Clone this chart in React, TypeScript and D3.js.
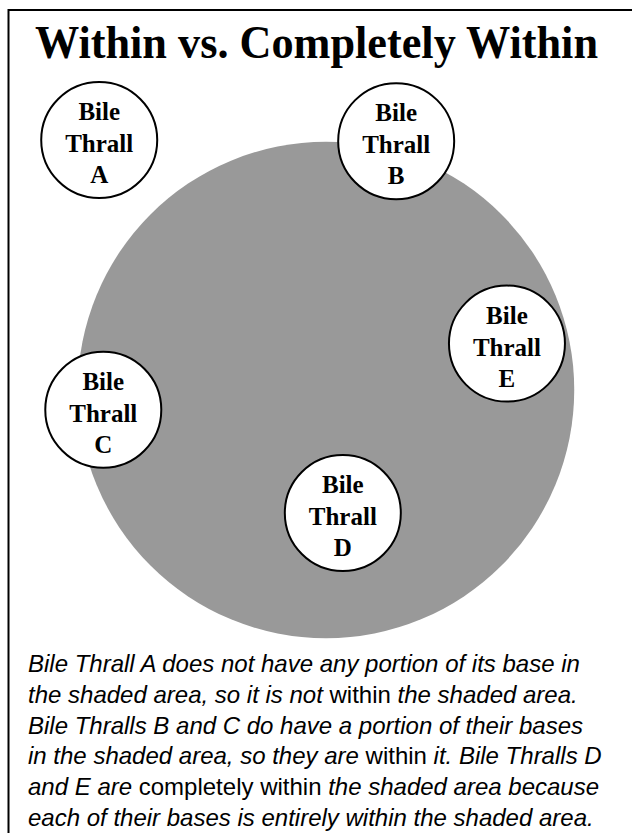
import React from 'react';
import * as d3 from 'd3';

// board coordinates, 1 unit = one base radius, origin = centre of shaded area
const thrallNames = ['A', 'B', 'C', 'D', 'E'];
const thrallX = [-3.91, 1.21, -3.84, 0.29, 3.12];
const thrallY = [-4.31, -4.29, 0.34, 2.12, -0.80];
const baseRadius = 1;
const areaRadius = 4.28;

const title = 'Within vs. Completely Within';
// caption lines, each as [text, italic?] runs
const captionLines: [string, boolean][][] = [
  [['Bile Thrall A does not have any portion of its base in', true]],
  [['the shaded area, so it is not', true], [' within ', false], ['the shaded area.', true]],
  [['Bile Thralls B and C do have a portion of their bases', true]],
  [['in the shaded area, so they are', true], [' within ', false], ['it. Bile Thralls D', true]],
  [['and E are', true], [' completely within ', false], ['the shaded area because', true]],
  [['each of their bases is entirely within the shaded area.', true]],
];

const W = 632, H = 833;

const App = () => {
  const unit = 58;
  const x = d3.scaleLinear().domain([0, 1]).range([326, 326 + unit]);
  const y = d3.scaleLinear().domain([0, 1]).range([390, 390 + unit]);
  const r = (v: number) => x(v) - x(0);

  const serif = '"Liberation Serif", "DejaVu Serif", serif';
  const sans = '"Liberation Sans", Arial, sans-serif';

  return (
    <svg width={W} height={H} style={{position: 'absolute', left: 0, top: 0, display: 'block', background: '#fff'}}>
      {/* frame, cut off on the right and bottom */}
      <rect x={8.5} y={10} width={700} height={900} fill="none" stroke="#000" strokeWidth={2} />

      <text x={35} y={58} fontFamily={serif} fontWeight="bold" fontSize={46}
        textLength={563} lengthAdjust="spacingAndGlyphs">{title}</text>

      <circle cx={x(0)} cy={y(0)} r={r(areaRadius)} fill="#999999" />

      {thrallNames.map((name, i) => {
        const cx = x(thrallX[i]);
        const cy = y(thrallY[i]);
        return (
          <g key={name}>
            <circle cx={cx} cy={cy} r={r(baseRadius)} fill="#fff" stroke="#000" strokeWidth={2} />
            <g fontFamily={serif} fontWeight="bold" fontSize={25} textAnchor="middle">
              <text x={cx} y={cy - 20}>Bile</text>
              <text x={cx} y={cy + 12}>Thrall</text>
              <text x={cx} y={cy + 43}>{name}</text>
            </g>
          </g>
        );
      })}

      <g fontFamily={sans} fontSize={24} fill="#000">
        {captionLines.map((line, i) => (
          <text key={i} x={28} y={672 + i * 30.8} xmlSpace="preserve">
            {line.map(([t, it], j) => (
              <tspan key={j} fontStyle={it ? 'italic' : 'normal'}>{t}</tspan>
            ))}
          </text>
        ))}
      </g>
    </svg>
  );
};

export default App;
